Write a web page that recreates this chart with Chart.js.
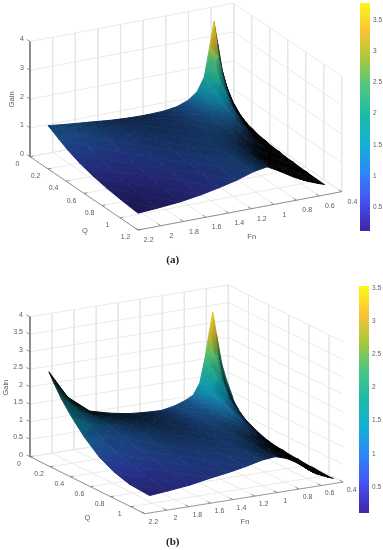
<!DOCTYPE html>
<html>
<head>
<meta charset="utf-8">
<title>Gain surfaces</title>
<script src="https://cdn.jsdelivr.net/npm/chart.js@4/dist/chart.umd.js"></script>
<style>
  html, body { margin: 0; padding: 0; background: #fff; overflow: hidden; }
  canvas { position: absolute; filter: blur(0.35px); }
</style>
</head>
<body>
<canvas id="surfaceA" width="383" height="275" style="left:0;top:0"></canvas>
<canvas id="surfaceB" width="383" height="275" style="left:0;top:275px"></canvas>
<canvas id="barA" width="23" height="234" style="left:360px;top:0"></canvas>
<canvas id="barB" width="23" height="235" style="left:359px;top:282px"></canvas>
<script>
// Axis ticks
const fnTicks = [2.2, 2, 1.8, 1.6, 1.4, 1.2, 1, 0.8, 0.6, 0.4];
const qTicksA = [0, 0.2, 0.4, 0.6, 0.8, 1, 1.2];
const qTicksB = [0, 0.2, 0.4, 0.6, 0.8, 1];
const gainTicksA = [0, 1, 2, 3, 4];
const gainTicksB = [0, 0.5, 1, 1.5, 2, 2.5, 3, 3.5, 4];
const barTicksA = [0.5, 1, 1.5, 2, 2.5, 3, 3.5];
const barTicksB = [0.5, 1, 1.5, 2, 2.5, 3, 3.5];

// Sample positions
const qSamples = [0.1, 0.15, 0.22, 0.32, 0.45, 0.6, 0.75, 0.9, 1.1];
const fnA = [0.47, 0.53, 0.58, 0.62, 0.654, 0.69, 0.74, 0.8, 0.88, 0.98, 1.1, 1.25, 1.4, 1.57, 1.75, 1.95, 2.12];
const fnB = [0.45, 0.5, 0.55, 0.6, 0.633, 0.665, 0.7, 0.75, 0.81, 0.88, 0.98, 1.1, 1.25, 1.4, 1.57, 1.75, 1.95, 2.12];

// Gain, one row per Fn sample, one value per Q sample
const gainA = [
  [0.62, 0.51, 0.39, 0.29, 0.21, 0.16, 0.13, 0.11, 0.09],
  [1.2, 0.98, 0.75, 0.55, 0.4, 0.31, 0.25, 0.21, 0.17],
  [1.95, 1.53, 1.14, 0.82, 0.6, 0.45, 0.365, 0.305, 0.25],
  [2.95, 2.12, 1.5, 1.05, 0.75, 0.57, 0.45, 0.38, 0.31],
  [3.76, 2.62, 1.82, 1.26, 0.9, 0.68, 0.54, 0.45, 0.37],
  [2.95, 2.44, 1.9, 1.41, 1.04, 0.79, 0.64, 0.54, 0.44],
  [1.9, 1.8, 1.63, 1.39, 1.13, 0.91, 0.76, 0.65, 0.54],
  [1.45, 1.42, 1.37, 1.29, 1.16, 1.02, 0.89, 0.79, 0.68],
  [1.2, 1.19, 1.18, 1.16, 1.12, 1.07, 1.01, 0.95, 0.87],
  [1.05, 1.05, 1.05, 1.06, 1.06, 1.06, 1.07, 1.07, 1.08],
  [0.98, 0.98, 0.98, 0.98, 0.98, 0.99, 0.99, 1, 1],
  [0.96, 0.96, 0.95, 0.945, 0.93, 0.91, 0.88, 0.85, 0.81],
  [0.97, 0.965, 0.95, 0.93, 0.895, 0.845, 0.79, 0.74, 0.67],
  [1.01, 1, 0.97, 0.92, 0.85, 0.765, 0.685, 0.615, 0.535],
  [1.08, 1.05, 1, 0.91, 0.79, 0.68, 0.58, 0.51, 0.43],
  [1.155, 1.1, 1.01, 0.88, 0.73, 0.6, 0.5, 0.43, 0.36],
  [1.23, 1.15, 1.02, 0.85, 0.68, 0.54, 0.45, 0.38, 0.315]
];
const gainB = [
  [0.95, 0.72, 0.52, 0.32, 0.22, 0.16, 0.12, 0.09, 0.07],
  [1.4, 0.95, 0.65, 0.45, 0.32, 0.24, 0.19, 0.16, 0.13],
  [1.95, 1.39, 0.98, 0.68, 0.49, 0.37, 0.29, 0.245, 0.2],
  [2.85, 1.95, 1.34, 0.93, 0.66, 0.495, 0.4, 0.33, 0.27],
  [3.48, 2.37, 1.63, 1.13, 0.81, 0.605, 0.48, 0.4, 0.33],
  [2.92, 2.35, 1.79, 1.3, 0.95, 0.72, 0.58, 0.49, 0.4],
  [2.25, 2.05, 1.75, 1.41, 1.1, 0.86, 0.7, 0.59, 0.49],
  [1.53, 1.49, 1.41, 1.29, 1.13, 0.96, 0.825, 0.72, 0.61],
  [1.2, 1.19, 1.17, 1.13, 1.07, 0.99, 0.91, 0.83, 0.74],
  [1.09, 1.09, 1.08, 1.065, 1.04, 1, 0.97, 0.92, 0.86],
  [0.98, 0.98, 0.98, 0.98, 0.98, 0.975, 0.97, 0.965, 0.96],
  [0.91, 0.91, 0.91, 0.91, 0.915, 0.915, 0.92, 0.92, 0.92],
  [0.93, 0.93, 0.925, 0.92, 0.905, 0.89, 0.87, 0.845, 0.81],
  [0.97, 0.965, 0.96, 0.94, 0.91, 0.87, 0.83, 0.78, 0.72],
  [1.07, 1.06, 1.04, 1, 0.94, 0.87, 0.79, 0.72, 0.64],
  [1.22, 1.19, 1.15, 1.06, 0.95, 0.82, 0.72, 0.63, 0.54],
  [1.72, 1.62, 1.46, 1.23, 1, 0.8, 0.66, 0.565, 0.47],
  [2.53, 2.28, 1.95, 1.58, 1.17, 0.81, 0.59, 0.46, 0.42]
];

// Colormap stops
const parula = [
  [62, 38, 168], [71, 82, 244], [46, 135, 247], [18, 177, 214], [30, 186, 165],
  [75, 200, 130], [170, 199, 57], [254, 195, 56], [249, 251, 21]
];

function colorAt(frac) {
  const p = Math.max(0, Math.min(1, frac)) * (parula.length - 1);
  const i = Math.min(Math.floor(p), parula.length - 2);
  return parula[i].map((c, k) => c + (parula[i + 1][k] - c) * (p - i));
}

const rgb = c => `rgb(${Math.round(c[0])},${Math.round(c[1])},${Math.round(c[2])})`;

// Draws the tick labels and titles through the chart's own scales
const textPlugin = {
  id: 'axisText',
  afterDraw(chart, _args, opts) {
    const { ctx, scales } = chart;
    ctx.save();
    ctx.textBaseline = 'middle';
    opts.items.forEach(t => {
      ctx.save();
      ctx.translate(scales.x.getPixelForValue(t.x), scales.y.getPixelForValue(t.y));
      if (t.rotate) ctx.rotate(t.rotate);
      ctx.font = t.font || '7px "Liberation Sans"';
      ctx.fillStyle = t.color || '#5c5c5c';
      ctx.textAlign = t.align || 'center';
      ctx.fillText(t.text, 0, 0);
      ctx.restore();
    });
    ctx.restore();
  }
};

function lineSet(points, color, width) {
  return {
    data: points, showLine: true, borderColor: color, borderWidth: width,
    pointRadius: 0, fill: false, tension: 0
  };
}

// Linear gradient that shades a triangle from its three corner colours
function triangleGradient(ctx, verts, shade) {
  const dist = (a, b) => Math.hypot(a.rgb[0] - b.rgb[0], a.rgb[1] - b.rgb[1], a.rgb[2] - b.rgb[2]);
  const pairs = [[0, 1, 2], [1, 2, 0], [0, 2, 1]];
  pairs.sort((m, n) => dist(verts[n[0]], verts[n[1]]) - dist(verts[m[0]], verts[m[1]]));
  const [A, B, C] = pairs[0].map(i => verts[i]);
  const span = dist(A, B) || 1;
  let t = 0;
  for (let k = 0; k < 3; k++) t += (C.rgb[k] - A.rgb[k]) * (B.rgb[k] - A.rgb[k]);
  t = Math.max(0, Math.min(1, t / (span * span)));
  const abx = B.p.x - A.p.x;
  const aby = B.p.y - A.p.y;
  // Isoline through C and its matching point on AB
  const dx = C.p.x - (A.p.x + abx * t);
  const dy = C.p.y - (A.p.y + aby * t);
  let nx = -dy;
  let ny = dx;
  const nn = nx * nx + ny * ny;
  const along = abx * nx + aby * ny;
  let endX = B.p.x;
  let endY = B.p.y;
  if (nn > 0.001 && Math.abs(along) > 0.001) {
    endX = A.p.x + nx * along / nn;
    endY = A.p.y + ny * along / nn;
  }
  const grad = ctx.createLinearGradient(A.p.x, A.p.y, endX, endY);
  for (let i = 0; i <= 4; i++) {
    const f = i / 4;
    grad.addColorStop(f, rgb(shade(A.g + (B.g - A.g) * f, A.dark + (B.dark - A.dark) * f)));
  }
  return grad;
}

/**
 * Build one projected surface chart
 * @param {string} id - Canvas id
 * @param {Object} cfg - Projection and sample lists for the panel
 */
function drawSurface(id, cfg) {
  const { origin, qVec, fnVec, gainPx, qMax, fns, gains, qTicks, gainTicks } = cfg;
  const canvas = document.getElementById(id);
  const ctx = canvas.getContext('2d');
  const project = (fn, q, g) => ({
    x: origin[0] + q * qVec[0] + (2.2 - fn) * fnVec[0],
    y: origin[1] + q * qVec[1] + (2.2 - fn) * fnVec[1] - g * gainPx
  });

  const back = [];
  const gridColor = '#e4e4e4';
  fnTicks.forEach(f => {
    back.push(lineSet([project(f, 0, 4), project(f, 0, 0), project(f, qMax, 0)], gridColor, 0.8));
  });
  qTicks.forEach(q => {
    back.push(lineSet([project(0.4, q, 4), project(0.4, q, 0), project(2.2, q, 0)], gridColor, 0.8));
  });
  gainTicks.forEach(g => {
    back.push(lineSet([project(2.2, 0, g), project(0.4, 0, g), project(0.4, qMax, g)], gridColor, 0.8));
  });

  // Axis lines and tick marks
  const axisColor = '#6a6a6a';
  back.push(lineSet([project(2.2, 0, 4), project(2.2, 0, 0), project(2.2, qMax, 0), project(0.4, qMax, 0)], axisColor, 0.7));
  gainTicks.forEach(g => {
    back.push(lineSet([project(2.2, 0, g), project(2.2, -0.035, g)], axisColor, 0.7));
  });
  qTicks.forEach(q => {
    back.push(lineSet([project(2.2, q, 0), project(2.17, q, 0)], axisColor, 0.7));
  });
  fnTicks.forEach(f => {
    back.push(lineSet([project(f, qMax, 0), project(f, qMax - 0.035, 0)], axisColor, 0.7));
  });

  // Dense mesh lines darken cells that look squeezed on screen
  const floorArea = Math.abs(qVec[0] * fnVec[1] - qVec[1] * fnVec[0]);
  const nF = fns.length;
  const nQ = qSamples.length;
  const point = (a, b) => project(fns[a], qSamples[b], gains[a][b]);
  const sum = fns.map(() => qSamples.map(() => 0));
  const cnt = fns.map(() => qSamples.map(() => 0));
  for (let j = 0; j < nF - 1; j++) {
    for (let k = 0; k < nQ - 1; k++) {
      const pts = [point(j, k), point(j + 1, k), point(j + 1, k + 1), point(j, k + 1)];
      let area = 0;
      pts.forEach((p, i) => {
        const n = pts[(i + 1) % 4];
        area += p.x * n.y - n.x * p.y;
      });
      const param = (fns[j + 1] - fns[j]) * (qSamples[k + 1] - qSamples[k]);
      const dark = Math.min(1, cfg.meshDark / Math.max(0.01, Math.abs(area) / 2 / (param * floorArea)));
      [[j, k], [j + 1, k], [j + 1, k + 1], [j, k + 1]].forEach(([a, b]) => {
        sum[a][b] += dark;
        cnt[a][b] += 1;
      });
    }
  }
  const shade = (g, dark) => colorAt((g - cfg.cMin) / (cfg.cMax - cfg.cMin)).map(c => c * (1 - dark));
  const vertex = (a, b) => {
    const dark = sum[a][b] / cnt[a][b];
    return { p: point(a, b), g: gains[a][b], dark, rgb: shade(gains[a][b], dark) };
  };

  // Surface triangles, far corner first
  const cells = [];
  const addTriangle = verts => {
    const grad = triangleGradient(ctx, verts, shade);
    cells.push({
      data: verts.map(v => v.p), showLine: true, borderColor: grad, borderWidth: 1,
      backgroundColor: grad, pointRadius: 0, fill: 'shape', tension: 0
    });
  };
  for (let k = 0; k < nQ - 1; k++) {
    for (let j = 0; j < nF - 1; j++) {
      const a = vertex(j, k);
      const b = vertex(j + 1, k);
      const c = vertex(j + 1, k + 1);
      const d = vertex(j, k + 1);
      if (Math.abs(a.g - c.g) < Math.abs(b.g - d.g)) {
        addTriangle([a, b, c]);
        addTriangle([a, c, d]);
      } else {
        addTriangle([a, b, d]);
        addTriangle([b, c, d]);
      }
    }
  }

  const items = [];
  gainTicks.forEach(g => {
    const p = project(2.2, 0, g);
    items.push({ x: p.x + cfg.gainOff[0], y: p.y + cfg.gainOff[1], text: String(g), align: 'right' });
  });
  qTicks.forEach(q => {
    const p = project(2.2, q, 0);
    items.push({ x: p.x + cfg.qOff[0], y: p.y + cfg.qOff[1], text: String(q) });
  });
  fnTicks.forEach(f => {
    const p = project(f, qMax, 0);
    items.push({ x: p.x + cfg.fnOff[0], y: p.y + cfg.fnOff[1], text: String(f) });
  });
  cfg.titles.forEach(t => items.push(t));

  new Chart(canvas, {
    type: 'scatter',
    // Chart.js paints the first dataset last
    data: { datasets: back.concat(cells).reverse() },
    plugins: [textPlugin],
    options: {
      responsive: false,
      animation: false,
      events: [],
      layout: { padding: 0 },
      plugins: { legend: { display: false }, tooltip: { enabled: false }, axisText: { items } },
      scales: {
        x: { type: 'linear', display: false, min: 0, max: 383 },
        y: { type: 'linear', display: false, min: 0, max: 275, reverse: true }
      }
    }
  });
}

/**
 * Build the colorbar as floating bars on a linear axis
 */
function drawColorbar(id, cMin, cMax, ticks, pad) {
  const steps = 64;
  const datasets = [];
  for (let i = 0; i < steps; i++) {
    const lo = cMin + (cMax - cMin) * i / steps;
    const hi = cMin + (cMax - cMin) * (i + 1.3) / steps;
    datasets.push({
      data: [[lo, Math.min(hi, cMax)]],
      backgroundColor: rgb(colorAt((i + 0.5) / steps)),
      grouped: false, barPercentage: 1, categoryPercentage: 1, borderWidth: 0
    });
  }
  new Chart(document.getElementById(id), {
    type: 'bar',
    data: { labels: [''], datasets },
    options: {
      responsive: false,
      animation: false,
      events: [],
      layout: { padding: { top: pad[0], bottom: pad[1] } },
      plugins: { legend: { display: false }, tooltip: { enabled: false } },
      scales: {
        x: { display: false },
        y: {
          position: 'right', min: cMin, max: cMax,
          border: { display: false },
          grid: { display: false, drawTicks: false },
          afterBuildTicks: scale => { scale.ticks = ticks.map(value => ({ value })); },
          afterFit: scale => { scale.width = 13; scale.paddingTop = 0; scale.paddingBottom = 0; },
          ticks: {
            autoSkip: false, padding: 3, color: '#5c5c5c', align: 'center',
            font: { family: 'Liberation Sans', size: 6.5 }, callback: v => String(v)
          }
        }
      }
    }
  });
}

drawSurface('surfaceA', {
  origin: [30, 156.7], qVec: [90, 61.1], fnVec: [113.2, -21.3], gainPx: 28.8,
  qMax: 1.2, fns: fnA, gains: gainA, qTicks: qTicksA, gainTicks: gainTicksA,
  cMin: 0.118, cMax: 3.77, meshDark: 0.72,
  gainOff: [-6, -2.5], qOff: [-12.5, 7.3], fnOff: [10.7, 10.3],
  titles: [
    { x: 85, y: 231, text: 'Q', font: '7.5px "Liberation Sans"' },
    { x: 251.7, y: 237.3, text: 'Fn', font: '7.5px "Liberation Sans"' },
    { x: 11.7, y: 99.3, text: 'Gain', rotate: -Math.PI / 2, font: '7.5px "Liberation Sans"' },
    { x: 172.7, y: 260, text: '(a)', font: 'bold 11px "Liberation Serif"', color: '#222' }
  ]
});

drawSurface('surfaceB', {
  origin: [30, 181.7], qVec: [100.7, 50], fnVec: [110.2, -17.6], gainPx: 35,
  qMax: 1.14, fns: fnB, gains: gainB, qTicks: qTicksB, gainTicks: gainTicksB,
  cMin: 0.106, cMax: 3.53, meshDark: 0.72,
  gainOff: [-7, -1.7], qOff: [-11, 7], fnOff: [8.5, 8],
  titles: [
    { x: 87.3, y: 242.7, text: 'Q', font: '7.5px "Liberation Sans"' },
    { x: 245, y: 246.7, text: 'Fn', font: '7.5px "Liberation Sans"' },
    { x: 6, y: 112.7, text: 'Gain', rotate: -Math.PI / 2, font: '7.5px "Liberation Sans"' },
    { x: 172.7, y: 266.7, text: '(b)', font: 'bold 11px "Liberation Serif"', color: '#222' }
  ]
});

drawColorbar('barA', 0.118, 3.77, barTicksA, [3, 3]);
drawColorbar('barB', 0.106, 3.53, barTicksB, [4, 4]);
</script>
</body>
</html>
